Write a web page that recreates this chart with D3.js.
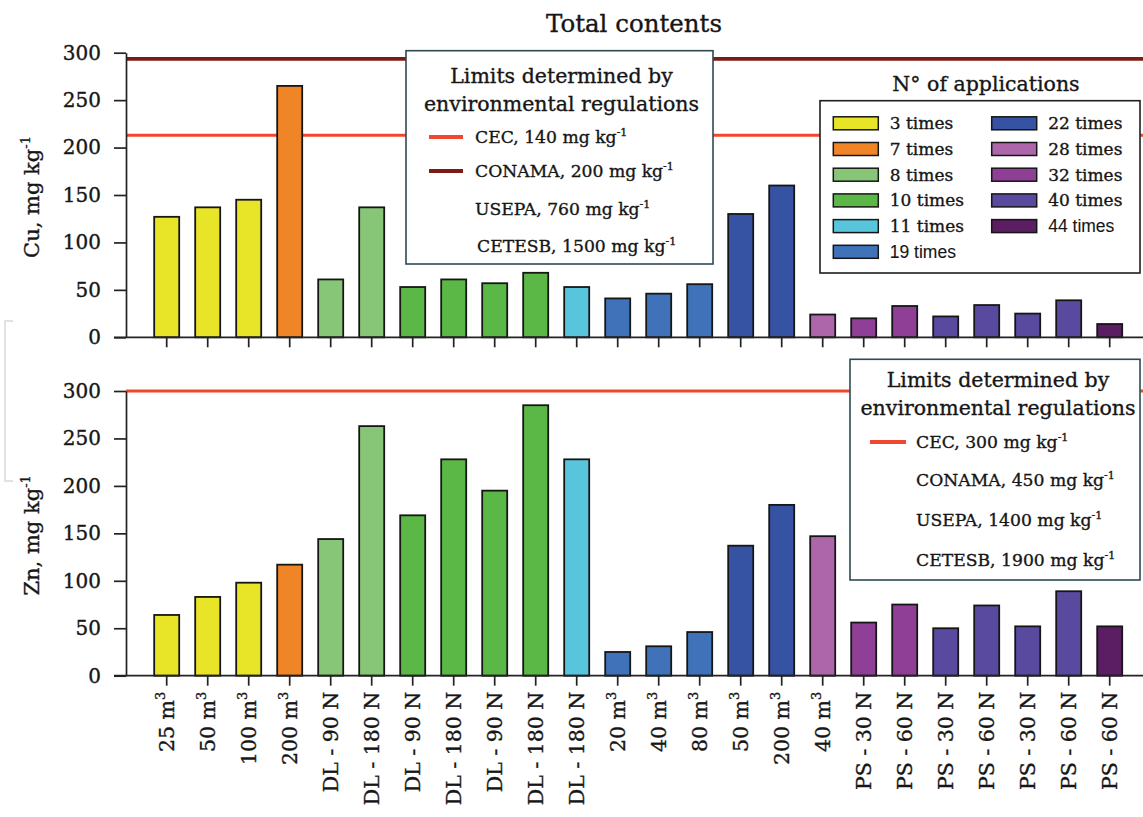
<!DOCTYPE html>
<html>
<head>
<meta charset="utf-8">
<script src="https://cdn.jsdelivr.net/npm/d3@7"></script>
<style>
  html, body { margin: 0; padding: 0; background: #fff; }
  svg { display: block; }
  text { font-family: "DejaVu Serif", "Liberation Serif", serif; fill: #161616; stroke: #161616; stroke-width: 0.35px; }
</style>
</head>
<body>
<svg id="chart" width="1143" height="817"></svg>
<script>
// ---------------- DATA ----------------
const xLabels = ["25 m^3","50 m^3","100 m^3","200 m^3",
  "DL - 90 N","DL - 180 N","DL - 90 N","DL - 180 N","DL - 90 N","DL - 180 N","DL - 180 N",
  "20 m^3","40 m^3","80 m^3","50 m^3","200 m^3","40 m^3",
  "PS - 30 N","PS - 60 N","PS - 30 N","PS - 60 N","PS - 30 N","PS - 60 N","PS - 60 N"];
const applications = [3,3,3,7, 8,8,10,10,10,10,11, 19,19,19,22,22,28, 32,32,40,40,40,40,44];
const cuValues = [127,137,145,265, 61,137,53,61,57,68,53, 41,46,56,130,160,24, 20,33,22,34,25,39,14];
const znValues = [64,83,98,117, 144,263,169,228,195,285,228, 25,31,46,137,180,147, 56,75,50,74,52,89,52];
const yTicks = [0,50,100,150,200,250,300];

const legendTimes = [3,7,8,10,11,19,22,28,32,40,44];
const legendColors = ["#e8e428","#f08528","#87c677","#5bb847","#58c5dc","#3f72b8","#3552a3","#ad66a9","#8f3f95","#5a4a9f","#5b1e63"];

// limit lines as drawn in the picture (value on the axis where each line sits)
const cuLimitNames = ["CEC","CONAMA"];
const cuLimitDrawn = [213, 293.5];
const znLimitNames = ["CEC"];
const znLimitDrawn = [300];

const cuLegendItems = ["CEC, 140 mg kg","CONAMA, 200 mg kg","USEPA, 760 mg kg","CETESB, 1500 mg kg"];
const znLegendItems = ["CEC, 300 mg kg","CONAMA, 450 mg kg","USEPA, 1400 mg kg","CETESB, 1900 mg kg"];

// ---------------- DRAW ----------------
const svg = d3.select("#chart");
const W = 1143;
const limitColor = {CEC: "#f1472f", CONAMA: "#7b1b13"};
const colorOf = d3.scaleOrdinal().domain(legendTimes).range(legendColors);

const idx = d3.range(xLabels.length);
const x = d3.scaleBand().domain(idx).range([146.2, 1130.2]).paddingInner(0.39).paddingOuter(0.195);

const axisX = 126, axisStart = 114;

// faint bracket artifact at left
svg.append("path").attr("d","M13,321 L5,321 L5,481 L13,481")
  .attr("fill","none").attr("stroke","#e2e2e2").attr("stroke-width",2);

svg.append("text").attr("x", 634).attr("y", 32).attr("text-anchor","middle")
  .style("font-size","24.5px").text("Total contents");

function panel(values, yTop, yBottom, limitNames, limitDrawn, yTitle, showLabels) {
  const y = d3.scaleLinear().domain([0,300]).range([yBottom, yTop]);
  const g = svg.append("g");

  // limit lines
  limitNames.forEach((n,i) => {
    g.append("line").attr("x1", axisX).attr("x2", W)
      .attr("y1", y(limitDrawn[i])).attr("y2", y(limitDrawn[i]))
      .attr("stroke", limitColor[n]).attr("stroke-width", n === "CONAMA" ? 3.8 : 3.2);
  });

  // bars
  g.selectAll("rect.bar").data(idx).join("rect").attr("class","bar")
    .attr("x", i => x(i)).attr("width", x.bandwidth())
    .attr("y", i => y(values[i])).attr("height", i => y(0) - y(values[i]))
    .attr("fill", i => colorOf(applications[i]))
    .attr("stroke", "#161616").attr("stroke-width", 1.8);

  // y axis
  const ya = g.append("g").attr("transform", `translate(${axisX},0)`)
    .call(d3.axisLeft(y).tickValues(yTicks).tickSize(12).tickSizeOuter(0).tickPadding(13));
  ya.select(".domain").attr("stroke","#222").attr("stroke-width",1.7);
  ya.selectAll(".tick line").attr("stroke","#222").attr("stroke-width",1.7);
  ya.selectAll(".tick text").style("font-size","20px").style("font-family","DejaVu Serif, serif")
    .attr("fill","#161616");

  // baseline
  g.append("line").attr("x1", axisStart).attr("x2", W).attr("y1", y(0)).attr("y2", y(0))
    .attr("stroke","#222").attr("stroke-width",1.7);

  // x axis ticks
  const xa = g.append("g").attr("transform", `translate(0,${y(0)})`)
    .call(d3.axisBottom(x).tickSize(10).tickSizeOuter(0).tickFormat(""));
  xa.select(".domain").remove();
  xa.selectAll(".tick line").attr("stroke","#222").attr("stroke-width",1.7);

  // y title
  const yt = g.append("text").attr("transform", `translate(39,${(yTop+yBottom)/2 + 2}) rotate(-90)`)
    .attr("text-anchor","middle").style("font-size","21px");
  yt.append("tspan").text(yTitle);
  yt.append("tspan").attr("dy", -9).style("font-size","13px").text("-1");

  if (showLabels) {
    idx.forEach(i => {
      const parts = xLabels[i].split("^");
      const t = g.append("text")
        .attr("transform", `translate(${x(i) + x.bandwidth()/2 + 7.5},${y(0) + 16}) rotate(-90)`)
        .attr("text-anchor","end").style("font-size","20.5px");
      t.append("tspan").text(parts[0]);
      if (parts[1]) t.append("tspan").attr("dy", -9).style("font-size","13px").text(parts[1]);
    });
  }
  return y;
}

panel(cuValues, 52.7, 337.3, cuLimitNames, cuLimitDrawn, "Cu, mg kg", false);
panel(znValues, 391, 675.7, znLimitNames, znLimitDrawn, "Zn, mg kg", true);

// ---- limits legend helper ----
function limitsLegend(box, title1y, cx, items, lineItems, lineX, textX, rowY, fs) {
  svg.append("rect").attr("x", box[0]).attr("y", box[1]).attr("width", box[2]).attr("height", box[3])
    .attr("fill","#fff").attr("stroke","#2f4a55").attr("stroke-width",1.6);
  svg.append("text").attr("x", cx).attr("y", title1y).attr("text-anchor","middle")
    .style("font-size","20.5px").text("Limits determined by");
  svg.append("text").attr("x", cx).attr("y", title1y + 28).attr("text-anchor","middle")
    .style("font-size","20.5px").text("environmental regulations");
  items.forEach((s,i) => {
    if (lineItems[i]) {
      svg.append("line").attr("x1", lineX[0]).attr("x2", lineX[1])
        .attr("y1", rowY[i] - 6).attr("y2", rowY[i] - 6)
        .attr("stroke", limitColor[lineItems[i]]).attr("stroke-width", 3.8);
    }
    const t = svg.append("text").attr("x", textX[i]).attr("y", rowY[i]).style("font-size", fs + "px");
    t.append("tspan").text(s);
    t.append("tspan").attr("dy", -7).style("font-size","11px").text("-1");
  });
}

limitsLegend([406, 50.7, 307, 213.3], 83, 561.5, cuLegendItems, ["CEC","CONAMA",null,null],
  [429, 463], [475,475,475,477], [143, 177, 215, 252], 17.2);
limitsLegend([850, 359.3, 290, 220.7], 387, 998, znLegendItems, ["CEC",null,null,null],
  [870, 906], [916,916,916,916], [448, 486, 526, 566], 17.2);

// ---- applications legend ----
svg.append("text").attr("x", 986).attr("y", 91).attr("text-anchor","middle")
  .style("font-size","20.5px").text("N° of applications");
svg.append("rect").attr("x", 820).attr("y", 100.7).attr("width", 320).attr("height", 172.3)
  .attr("fill","#fff").attr("stroke","#1e1e1e").attr("stroke-width",1.6);
legendTimes.forEach((t,i) => {
  const col = i < 6 ? 0 : 1;
  const row = col === 0 ? i : i - 6;
  const sx = col === 0 ? 833.3 : 991.7;
  const cy = 123.3 + row * 25.7;
  svg.append("rect").attr("x", sx).attr("y", cy - 6.5).attr("width", 45).attr("height", 13)
    .attr("fill", legendColors[i]).attr("stroke","#161616").attr("stroke-width",1.5);
  const sans = (t === 19 || t === 44);
  svg.append("text").attr("x", sx + 56.5).attr("y", cy + 6)
    .style("font-size", sans ? "17.5px" : "17px")
    .style("font-family", sans ? "Liberation Sans, Arial, sans-serif" : "DejaVu Serif, serif")
    .style("stroke-width", sans ? "0.1px" : null)
    .text(t + " times");
});
</script>
</body>
</html>
